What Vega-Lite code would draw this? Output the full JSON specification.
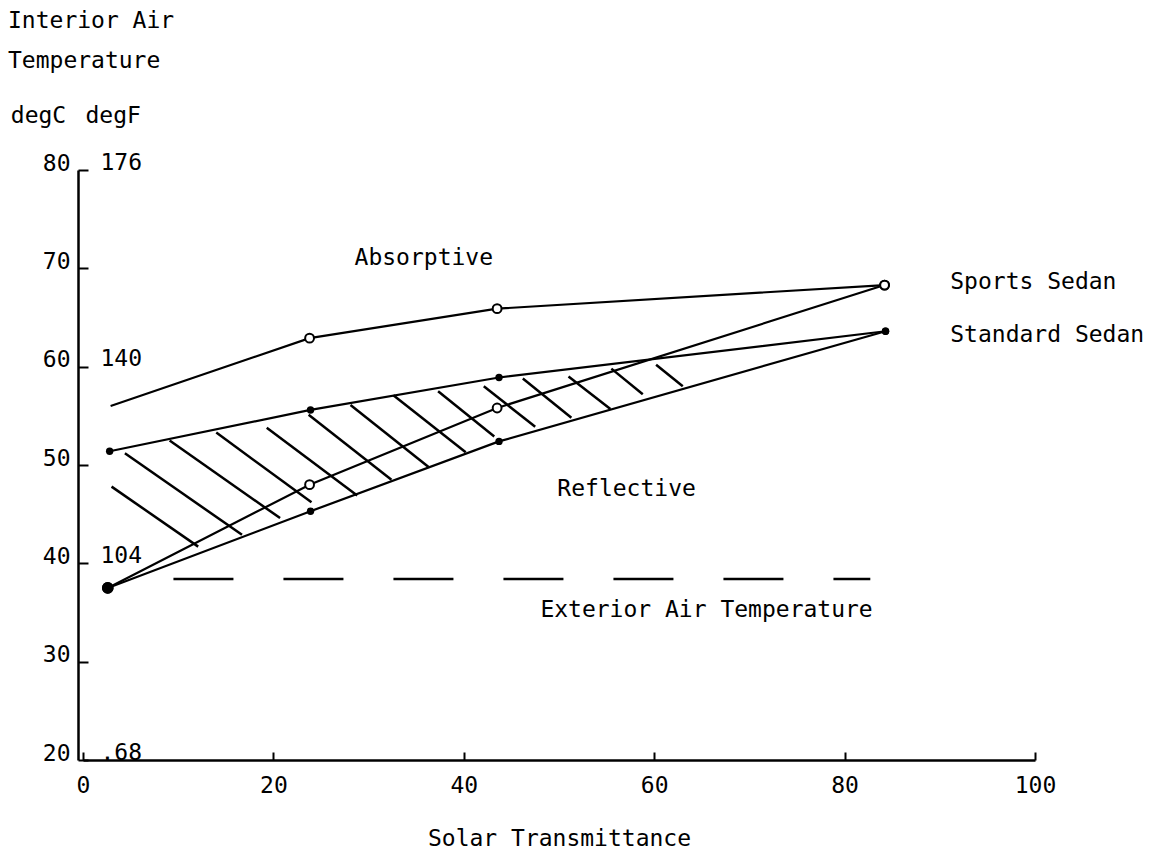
{
  "$schema": "https://vega.github.io/schema/vega-lite/v6.json",
  "width": 952,
  "height": 590,
  "autosize": {"type": "none"},
  "padding": {"left": 83, "top": 170, "right": 128, "bottom": 92},
  "background": "white",
  "config": {
    "view": {"stroke": null},
    "font": "DejaVu Sans Mono",
    "axis": {"labelColor": "black", "titleColor": "black", "domainColor": "black", "tickColor": "black", "grid": false, "labelFontSize": 23, "titleFontSize": 23, "titleFontWeight": "normal", "labelFont": "DejaVu Sans Mono", "titleFont": "DejaVu Sans Mono"}
  },
  "title": {
    "text": ["Interior Air", "Temperature"],
    "anchor": "start",
    "frame": "group",
    "orient": "top",
    "font": "DejaVu Sans Mono",
    "fontSize": 23,
    "fontWeight": "normal",
    "color": "black",
    "lineHeight": 40,
    "dx": -75,
    "dy": -31,
    "baseline": "top",
    "offset": 0
  },
  "datasets": {
    "curves": [
      {"car": "Sports Sedan", "coating": "Absorptive", "series": "Sports Absorptive", "x": 2.9, "y": 56.0},
      {"car": "Sports Sedan", "coating": "Absorptive", "series": "Sports Absorptive", "x": 23.8, "y": 62.9},
      {"car": "Sports Sedan", "coating": "Absorptive", "series": "Sports Absorptive", "x": 43.5, "y": 65.9},
      {"car": "Sports Sedan", "coating": "Absorptive", "series": "Sports Absorptive", "x": 84.2, "y": 68.3},
      {"car": "Standard Sedan", "coating": "Absorptive", "series": "Standard Absorptive", "x": 2.8, "y": 51.4},
      {"car": "Standard Sedan", "coating": "Absorptive", "series": "Standard Absorptive", "x": 23.9, "y": 55.6},
      {"car": "Standard Sedan", "coating": "Absorptive", "series": "Standard Absorptive", "x": 43.7, "y": 58.9},
      {"car": "Standard Sedan", "coating": "Absorptive", "series": "Standard Absorptive", "x": 84.3, "y": 63.6},
      {"car": "Sports Sedan", "coating": "Reflective", "series": "Sports Reflective", "x": 2.6, "y": 37.5},
      {"car": "Sports Sedan", "coating": "Reflective", "series": "Sports Reflective", "x": 23.8, "y": 48.0},
      {"car": "Sports Sedan", "coating": "Reflective", "series": "Sports Reflective", "x": 43.5, "y": 55.8},
      {"car": "Sports Sedan", "coating": "Reflective", "series": "Sports Reflective", "x": 84.2, "y": 68.3},
      {"car": "Standard Sedan", "coating": "Reflective", "series": "Standard Reflective", "x": 2.6, "y": 37.5},
      {"car": "Standard Sedan", "coating": "Reflective", "series": "Standard Reflective", "x": 23.9, "y": 45.3},
      {"car": "Standard Sedan", "coating": "Reflective", "series": "Standard Reflective", "x": 43.7, "y": 52.4},
      {"car": "Standard Sedan", "coating": "Reflective", "series": "Standard Reflective", "x": 84.3, "y": 63.6}
    ],
    "hatch": [
      {"x": 3.0, "y": 47.8, "x2": 12.1, "y2": 41.7},
      {"x": 4.4, "y": 51.2, "x2": 16.7, "y2": 42.9},
      {"x": 9.1, "y": 52.5, "x2": 20.7, "y2": 44.6},
      {"x": 14.0, "y": 53.3, "x2": 24.0, "y2": 46.2},
      {"x": 19.3, "y": 53.8, "x2": 28.8, "y2": 46.9},
      {"x": 23.7, "y": 55.1, "x2": 32.4, "y2": 48.5},
      {"x": 28.1, "y": 56.1, "x2": 36.3, "y2": 49.8},
      {"x": 32.6, "y": 57.1, "x2": 40.2, "y2": 51.3},
      {"x": 37.3, "y": 57.5, "x2": 43.2, "y2": 52.9},
      {"x": 42.1, "y": 58.0, "x2": 47.5, "y2": 53.9},
      {"x": 46.2, "y": 58.8, "x2": 51.3, "y2": 54.8},
      {"x": 51.0, "y": 59.0, "x2": 55.4, "y2": 55.7},
      {"x": 55.5, "y": 59.8, "x2": 58.8, "y2": 57.2},
      {"x": 60.2, "y": 60.2, "x2": 63.0, "y2": 58.0}
    ],
    "exterior": [
      {"label": "Exterior Air Temperature", "x": 9.5, "x2": 82.7, "y": 38.4}
    ],
    "annotations": [
      {"label": "Absorptive", "x": 35.8, "y": 71.1},
      {"label": "Reflective", "x": 57.1, "y": 47.6},
      {"label": "Exterior Air Temperature", "x": 65.5, "y": 35.3}
    ],
    "seriesLabels": [
      {"label": "Sports Sedan", "x": 91.1, "y": 68.6},
      {"label": "Standard Sedan", "x": 91.1, "y": 63.2}
    ]
  },
  "encoding": {
    "x": {
      "field": "x", "type": "quantitative", "scale": {"domain": [0, 100], "nice": false},
      "axis": {"values": [0, 20, 40, 60, 80, 100], "title": "Solar Transmittance", "orient": "bottom", "tickSize": -8, "tickWidth": 2, "domainWidth": 2.5, "labelPadding": 22, "titlePadding": 30, "labelFlush": false}
    }
  },
  "layer": [
    {
      "data": {"name": "hatch"},
      "mark": {"type": "rule", "color": "black", "strokeWidth": 2.5},
      "encoding": {
        "x2": {"field": "x2"},
        "y": {
          "field": "y", "type": "quantitative", "scale": {"domain": [20, 80], "nice": false, "zero": false},
          "axis": {
            "orient": "right", "offset": -935, "values": [20, 40, 60, 80],
            "labelExpr": "datum.value == 20 ? '.68' : format(datum.value * 1.8 + 32, 'd')",
            "domain": false, "ticks": false, "labelPadding": 0, "labelAlign": "left", "labelOffset": -8,
            "title": "degF", "titleAngle": 0, "titleX": -15, "titleY": -55, "titleAlign": "left", "titleBaseline": "middle"
          }
        },
        "y2": {"field": "y2"}
      }
    },
    {
      "data": {"name": "exterior"},
      "mark": {"type": "rule", "color": "black", "strokeWidth": 2.5, "strokeDash": [60, 50]},
      "encoding": {
        "x2": {"field": "x2"},
        "y": {"field": "y", "type": "quantitative", "axis": null}
      }
    },
    {
      "data": {"name": "curves"},
      "mark": {"type": "line", "color": "black", "strokeWidth": 2.2},
      "encoding": {
        "y": {
          "field": "y", "type": "quantitative",
          "axis": {"orient": "left", "offset": 5, "values": [20, 30, 40, 50, 60, 70, 80], "tickSize": -10, "tickWidth": 2, "domainWidth": 2.5, "labelPadding": 18, "labelOffset": -7,
            "title": "degC", "titleAngle": 0, "titleX": -40, "titleY": -55, "titleAlign": "center", "titleBaseline": "middle"}
        },
        "detail": {"field": "series"}
      }
    },
    {
      "data": {"name": "curves"},
      "transform": [{"filter": "datum.car == 'Sports Sedan' && datum.x > 3"}],
      "mark": {"type": "point", "shape": "circle", "filled": false, "fill": "white", "stroke": "black", "strokeWidth": 2, "size": 78, "opacity": 1},
      "encoding": {
        "y": {"field": "y", "type": "quantitative", "axis": null}
      }
    },
    {
      "data": {"name": "curves"},
      "transform": [{"filter": "datum.car == 'Standard Sedan' && datum.x > 2.7"}],
      "mark": {"type": "point", "shape": "circle", "filled": true, "color": "black", "size": 55, "opacity": 1},
      "encoding": {
        "y": {"field": "y", "type": "quantitative", "axis": null}
      }
    },
    {
      "data": {"name": "curves"},
      "transform": [{"filter": "datum.coating == 'Reflective' && datum.x < 3"}],
      "mark": {"type": "point", "shape": "circle", "filled": true, "color": "black", "size": 135, "opacity": 1},
      "encoding": {
        "y": {"field": "y", "type": "quantitative", "axis": null}
      }
    },
    {
      "data": {"name": "annotations"},
      "mark": {"type": "text", "align": "center", "baseline": "middle", "fontSize": 23, "color": "black"},
      "encoding": {
        "y": {"field": "y", "type": "quantitative", "axis": null},
        "text": {"field": "label"}
      }
    },
    {
      "data": {"name": "seriesLabels"},
      "mark": {"type": "text", "align": "left", "baseline": "middle", "fontSize": 23, "color": "black"},
      "encoding": {
        "y": {"field": "y", "type": "quantitative", "axis": null},
        "text": {"field": "label"}
      }
    }
  ],
  "resolve": {"axis": {"y": "independent"}}
}
